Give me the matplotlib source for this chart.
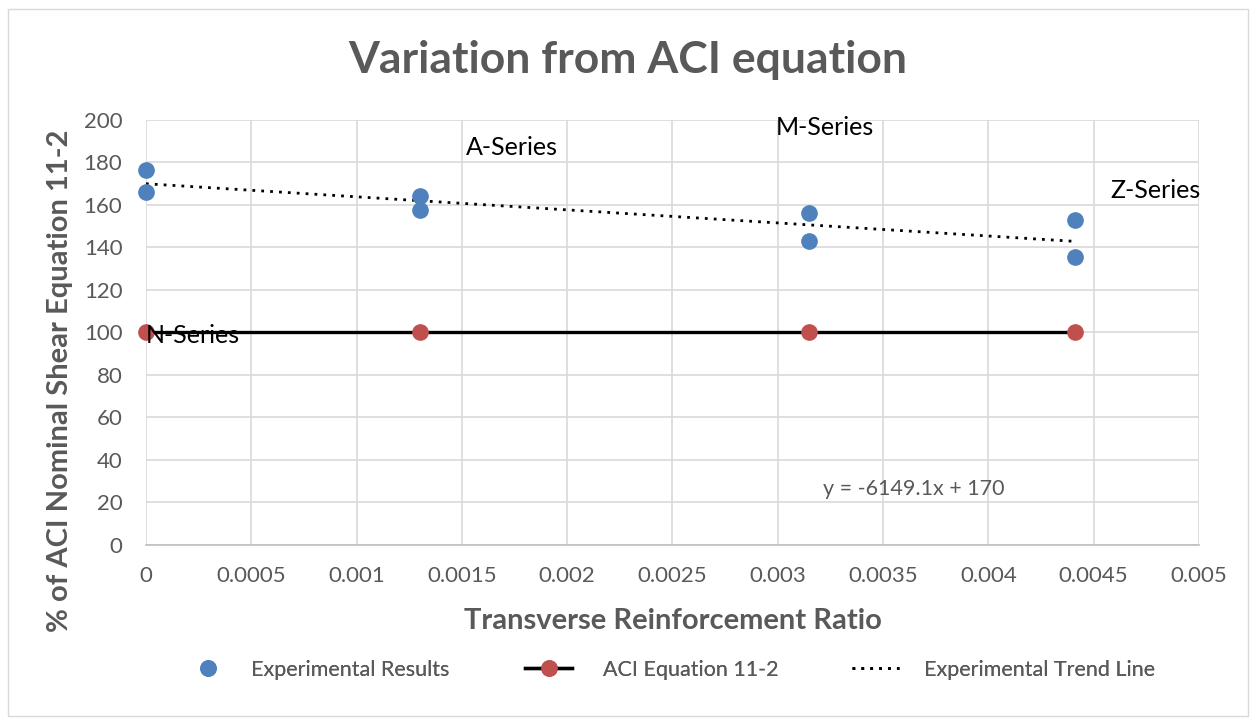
import matplotlib
matplotlib.use("Agg")
import matplotlib.pyplot as plt
from matplotlib.lines import Line2D
from matplotlib.patches import Rectangle
import numpy as np

plt.rcParams['font.family'] = ['Lato', 'DejaVu Sans']

# Transverse reinforcement ratio for each specimen series
ratio = [0.0, 0.0, 0.00130, 0.00130, 0.00315, 0.00315, 0.00441, 0.00441]
# Experimental capacity as % of ACI Eq. 11-2
experimental = [176.5, 166.0, 164.0, 157.5, 156.0, 143.0, 153.0, 135.5]

aci_ratio = [0.0, 0.00130, 0.00315, 0.00441]
aci_value = [100, 100, 100, 100]

trend_slope = -6149.1
trend_intercept = 170

series_names = ["N-Series", "A-Series", "M-Series", "Z-Series"]
series_label_x = [0.0, 0.00152, 0.00299, 0.00458]
series_label_y = [98.5, 187, 196.5, 167]

x_ticks = [0, 0.0005, 0.001, 0.0015, 0.002, 0.0025, 0.003, 0.0035, 0.004, 0.0045, 0.005]
x_tick_labels = ["0", "0.0005", "0.001", "0.0015", "0.002", "0.0025", "0.003",
                 "0.0035", "0.004", "0.0045", "0.005"]
y_ticks = list(range(0, 201, 20))

blue = "#4f81bd"
red = "#c0504d"
grey_text = "#595959"
grid = "#d9d9d9"

fig = plt.figure(figsize=(12.56, 7.25), dpi=100)
fig.patches.append(Rectangle((0.006, 0.012), 0.988, 0.976, transform=fig.transFigure,
                             fill=False, edgecolor="#d9d9d9", linewidth=1))
ax = fig.add_axes([0.1162, 0.2483, 0.8384, 0.5862])

ax.set_xlim(0, 0.005)
ax.set_ylim(0, 200)
ax.set_xticks(x_ticks)
ax.set_xticklabels(x_tick_labels)
ax.set_yticks(y_ticks)
ax.grid(True, color=grid, linewidth=1.2)
ax.set_axisbelow(True)
for s in ["top", "right", "left"]:
    ax.spines[s].set_visible(False)
ax.spines["bottom"].set_color("#bfbfbf")
ax.spines["bottom"].set_linewidth(1.2)
ax.tick_params(length=0, labelsize=16, labelcolor=grey_text)
ax.tick_params(axis="x", pad=15)
ax.tick_params(axis="y", pad=17)

# Trend line of experimental results
tx = np.array([0.0, max(ratio)])
ax.plot(tx, trend_slope * tx + trend_intercept, linestyle=(0, (1, 2.2)),
        color="black", linewidth=2, zorder=3, clip_on=False)

# ACI reference line
ax.plot(aci_ratio, aci_value, color="black", linewidth=2.4, marker="o",
        markersize=11, markerfacecolor=red, markeredgecolor=red, zorder=4, clip_on=False)

# Experimental points
ax.plot(ratio, experimental, linestyle="none", marker="o", markersize=11,
        color=blue, zorder=5, clip_on=False)

for name, lx, ly in zip(series_names, series_label_x, series_label_y):
    ax.text(lx, ly, name, fontsize=18, color="black", va="center", ha="left",
            zorder=6, clip_on=False)

ax.text(0.003215, 26.5, "y = -6149.1x + 170", fontsize=15.5, color=grey_text,
        va="center", ha="left")

fig.text(0.5, 0.917, "Variation from ACI equation", fontsize=32, fontweight="bold",
         color=grey_text, ha="center", va="center")
ax.set_xlabel("Transverse Reinforcement Ratio", fontsize=21, fontweight="bold",
              color=grey_text, labelpad=16)
ax.set_ylabel("% of ACI Nominal Shear Equation 11-2", fontsize=21, fontweight="bold",
              color=grey_text, va="center", ha="center")
ax.yaxis.set_label_coords(-0.082, 0.386)

# Legend entries, each placed as its own block along the bottom
entries = [
    (Line2D([], [], linestyle="none", marker="o", markersize=11, color=blue),
     "Experimental Results", 0.1470, 0.86),
    (Line2D([], [], color="black", linewidth=2.4, marker="o", markersize=11,
            markerfacecolor=red, markeredgecolor=red),
     "ACI Equation 11-2", 0.4180, 1.44),
    (Line2D([], [], color="black", linewidth=2, linestyle=(0, (1, 2.2))),
     "Experimental Trend Line", 0.6783, 1.16),
]
for handle, label, x0, tpad in entries:
    leg = fig.legend([handle], [label], loc="center left", bbox_to_anchor=(x0, 0.0759),
                     frameon=False, fontsize=15.5, labelcolor=grey_text,
                     handlelength=2.2, handletextpad=tpad, borderpad=0,
                     borderaxespad=0)
    fig.add_artist(leg)

fig.savefig("out.png", dpi=100)
